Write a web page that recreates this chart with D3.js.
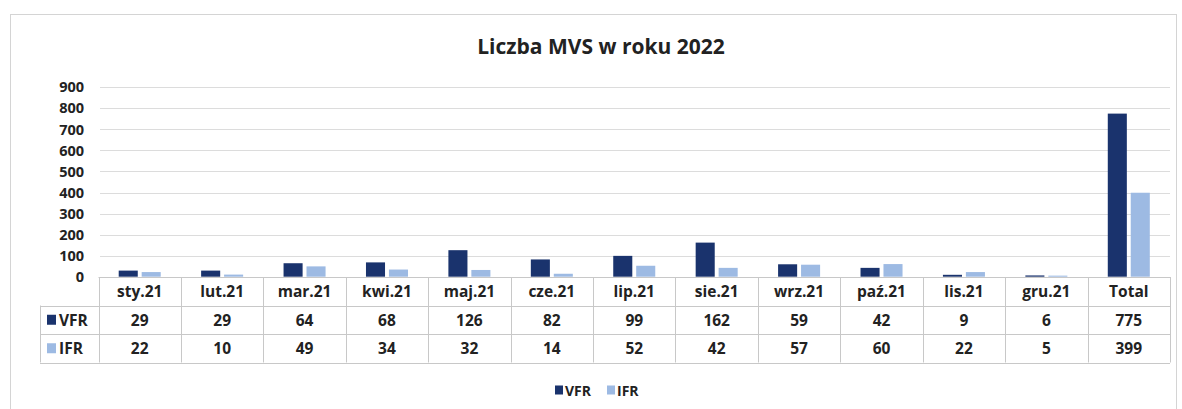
<!DOCTYPE html>
<html>
<head>
<meta charset="utf-8">
<script src="https://cdn.jsdelivr.net/npm/d3@7"></script>
<style>
  body { margin: 0; background: #fff; }
  svg { display: block; font-family: "Open Sans", sans-serif; }
</style>
</head>
<body>
<div class="canvas_area"></div>
<script>
// DATA
const categories = ["sty.21", "lut.21", "mar.21", "kwi.21", "maj.21", "cze.21", "lip.21", "sie.21", "wrz.21", "paź.21", "lis.21", "gru.21", "Total"];
const vfr = [29, 29, 64, 68, 126, 82, 99, 162, 59, 42, 9, 6, 775];
const ifr = [22, 10, 49, 34, 32, 14, 52, 42, 57, 60, 22, 5, 399];
const seriesNames = ["VFR", "IFR"];
const yTicks = [0, 100, 200, 300, 400, 500, 600, 700, 800, 900];
const titleText = "Liczba MVS w roku 2022";

const width = 1182, height = 409;
const colors = { VFR: "#1a336d", IFR: "#9dbae3" };
const gridColor = "#dcdcdc", tableColor = "#c8c8c8";

const svg = d3.select(".canvas_area").append("svg")
  .attr("width", width)
  .attr("height", height);

// CHART FRAME
svg.append("rect")
  .attr("x", 10.5).attr("y", 14.5)
  .attr("width", 1166).attr("height", 420)
  .attr("fill", "none")
  .attr("stroke", "#d4d4d4");

// TITLE
svg.append("text")
  .attr("x", 601).attr("y", 54)
  .attr("text-anchor", "middle")
  .style("font-size", "21px")
  .style("font-weight", 700)
  .attr("fill", "#222")
  .text(titleText);

// SCALES
const X = d3.scaleBand()
  .domain(categories)
  .range([98.5, 1170])
  .paddingInner(0).paddingOuter(0);

const X1 = d3.scaleBand()
  .domain(seriesNames)
  .range([0, X.bandwidth()])
  .paddingInner(0.17)
  .paddingOuter(0.88);

const Y = d3.scaleLinear()
  .domain([0, 900])
  .range([276.7, 87.3]);

// GRID
svg.append("g").selectAll("line")
  .data(yTicks.filter(d => d > 0))
  .join("line")
  .attr("x1", 100).attr("x2", 1170)
  .attr("y1", d => Math.round(Y(d)) + 0.5)
  .attr("y2", d => Math.round(Y(d)) + 0.5)
  .attr("stroke", gridColor);

// Y AXIS
const yAxis = svg.append("g")
  .attr("transform", "translate(98,0)")
  .call(d3.axisLeft(Y).tickValues(yTicks).tickSize(0).tickPadding(14));
yAxis.select(".domain").remove();
yAxis.selectAll("text")
  .style("font-size", "14.5px")
  .style("font-weight", 700)
  .style("font-family", "Open Sans, sans-serif")
  .attr("fill", "#222");

// BARS
const rows = seriesNames.map((name, k) => ({ name: name, values: k === 0 ? vfr : ifr }));
const barData = [];
categories.forEach((c, i) => {
  rows.forEach(r => barData.push({ cat: c, series: r.name, value: r.values[i] }));
});

svg.append("g").selectAll("rect")
  .data(barData)
  .join("rect")
  .attr("x", d => X(d.cat) + X1(d.series))
  .attr("width", X1.bandwidth())
  .attr("y", d => Y(d.value))
  .attr("height", d => Y(0) - Y(d.value))
  .attr("fill", d => colors[d.series]);

// DATA TABLE
const rowTop = 277, rowH = 28.5;
const labelLeft = 40;
const table = svg.append("g");

// horizontal lines
table.append("line")
  .attr("x1", X.range()[0]).attr("x2", X.range()[1])
  .attr("y1", rowTop + 0.5).attr("y2", rowTop + 0.5)
  .attr("stroke", tableColor);
[1, 2, 3].forEach(k => {
  const y = Math.round(rowTop + k * rowH) + 0.5;
  table.append("line")
    .attr("x1", labelLeft).attr("x2", X.range()[1])
    .attr("y1", y).attr("y2", y)
    .attr("stroke", tableColor);
});

// vertical lines
const colEdges = categories.map(c => X(c)).concat([X.range()[1]]);
table.selectAll(".vline")
  .data(colEdges)
  .join("line").classed("vline", true)
  .attr("x1", d => Math.round(d) + 0.5).attr("x2", d => Math.round(d) + 0.5)
  .attr("y1", rowTop).attr("y2", rowTop + 3 * rowH)
  .attr("stroke", tableColor);
table.append("line")
  .attr("x1", labelLeft + 0.5).attr("x2", labelLeft + 0.5)
  .attr("y1", rowTop + rowH).attr("y2", rowTop + 3 * rowH)
  .attr("stroke", tableColor);

const cellStyle = sel => sel
  .style("font-size", "15.5px")
  .style("font-weight", 700)
  .attr("fill", "#222")
  .attr("dominant-baseline", "central");

// header row
table.selectAll(".cat")
  .data(categories)
  .join("text").classed("cat", true)
  .attr("x", d => X(d) + X.bandwidth() / 2)
  .attr("y", rowTop + rowH / 2)
  .attr("text-anchor", "middle")
  .call(cellStyle)
  .text(d => d);

// value rows
rows.forEach((r, k) => {
  const cy = rowTop + (k + 1.5) * rowH;
  table.append("rect")
    .attr("x", 47).attr("y", cy - 5)
    .attr("width", 9).attr("height", 10)
    .attr("fill", colors[r.name]);
  table.append("text")
    .attr("x", 59).attr("y", cy)
    .call(cellStyle)
    .text(r.name);
  table.selectAll(".val" + k)
    .data(r.values)
    .join("text").classed("val" + k, true)
    .attr("x", (d, i) => X(categories[i]) + X.bandwidth() / 2)
    .attr("y", cy)
    .attr("text-anchor", "middle")
    .call(cellStyle)
    .text(d => d);
});

// LEGEND
const legend = svg.append("g").attr("transform", "translate(555,390)");
const legendX = d3.scaleOrdinal().domain(seriesNames).range([0, 52]);
seriesNames.forEach(name => {
  legend.append("rect")
    .attr("x", legendX(name)).attr("y", -4.5)
    .attr("width", 8).attr("height", 9)
    .attr("fill", colors[name]);
  legend.append("text")
    .attr("x", legendX(name) + 10).attr("y", 0)
    .attr("dominant-baseline", "central")
    .style("font-size", "14px")
    .style("font-weight", 700)
    .attr("fill", "#222")
    .text(name);
});
</script>
</body>
</html>
